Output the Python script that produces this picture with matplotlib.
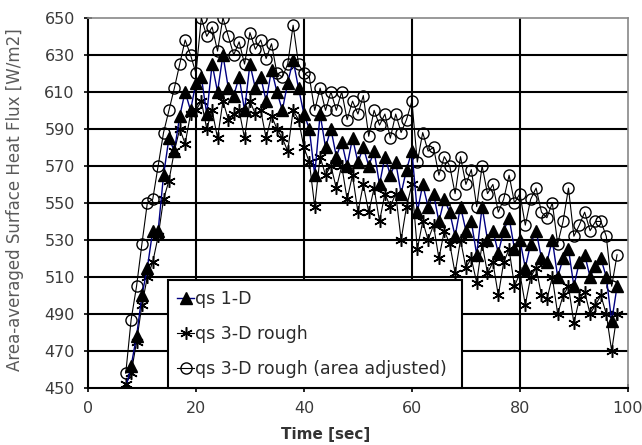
import matplotlib
matplotlib.use("Agg")
import matplotlib.pyplot as plt
import numpy as np

plt.rcParams['font.family'] = ['DejaVu Sans']

# time stamps [sec]
time_s = list(range(7, 99))

# quasi-steady 1-D surface heat flux [W/m2]
qs_1d = [
    450, 462, 478, 500, 515, 535, 535, 565, 585, 578,
    597, 610, 600, 615, 618, 598, 625, 610, 630, 612,
    608, 618, 600, 625, 612, 618, 605, 622, 610, 600,
    615, 627, 612, 598, 590, 565, 598, 580, 590, 575,
    583, 570, 585, 572, 580, 570, 578, 560, 575, 565,
    572, 555, 568, 578, 545, 560, 548, 555, 540, 552,
    545, 532, 548, 535, 540, 522, 548, 530, 535, 523,
    535, 542, 525, 530, 515, 528, 535, 520, 518, 530,
    510, 520, 525, 505, 518, 522, 510, 516, 520, 510,
    486, 505,
]

# quasi-steady 3-D rough surface heat flux [W/m2]
qs_3d_rough = [
    452, 458, 475, 495, 510, 518, 532, 552, 562, 578,
    590, 582, 598, 600, 605, 590, 600, 585, 605, 595,
    598, 600, 585, 605, 598, 600, 585, 597, 590, 585,
    578, 600, 595, 580, 572, 548, 575, 565, 570, 558,
    570, 552, 565, 545, 560, 545, 558, 540, 555, 548,
    555, 530, 548, 560, 525, 540, 530, 538, 520, 535,
    528, 512, 530, 515, 520, 507, 528, 512, 518, 500,
    518, 525, 505, 512, 495, 510, 515, 500, 498, 510,
    490, 500, 505, 485, 498, 502, 490, 495, 500, 490,
    470, 490,
]

# quasi-steady 3-D rough, area adjusted [W/m2]
qs_3d_area = [
    458, 487, 505, 528, 550, 552, 570, 588, 600, 612,
    625, 638, 630, 620, 650, 640, 645, 632, 650, 640,
    630, 637, 625, 642, 633, 638, 628, 636, 620, 618,
    625, 646, 625, 620, 618, 600, 612, 600, 610, 600,
    610, 595, 605, 598, 608, 586, 600, 592, 598, 585,
    598, 588, 595, 605, 572, 588, 578, 580, 565, 575,
    570, 555, 575, 560, 568, 548, 570, 555, 560, 545,
    552, 565, 550, 555, 538, 552, 558, 545, 542, 550,
    528, 540, 558, 532, 538, 545, 535, 540, 540, 532,
    505, 522,
]

labels = ["qs 1-D", "qs 3-D rough", "qs 3-D rough (area adjusted)"]

fig = plt.figure(figsize=(6.42, 4.45), dpi=100)
ax = fig.add_axes([0.137, 0.128, 0.841, 0.832])

ax.plot(time_s, qs_1d, color='#000080', lw=1.0, marker='^', ms=8,
        mfc='black', mec='black', label=labels[0], zorder=5)
ax.plot(time_s, qs_3d_rough, color='black', lw=0.8, marker=(6, 2, 0), ms=9,
        mec='black', mew=1.1, label=labels[1], zorder=4)
ax.plot(time_s, qs_3d_area, color='black', lw=0.8, marker='o', ms=8,
        mfc='none', mec='black', mew=1.0, label=labels[2], zorder=3)

ax.set_xlim(0, 100)
ax.set_ylim(450, 650)
ax.set_xticks(np.arange(0, 101, 20))
ax.set_yticks(np.arange(450, 651, 20))

# grid: interior lines only
for xv in (20, 40, 60, 80):
    ax.axvline(xv, color='black', lw=1.5, zorder=1)
for yv in range(470, 650, 20):
    ax.axhline(yv, color='black', lw=1.5, zorder=1)

for side in ('top', 'right'):
    ax.spines[side].set_color('#888888')
    ax.spines[side].set_linewidth(1.2)
for side in ('left', 'bottom'):
    ax.spines[side].set_color('black')
    ax.spines[side].set_linewidth(1.5)

ax.tick_params(axis='both', direction='inout', length=6, width=1.2,
               labelsize=11.5, colors='black', labelcolor='#3a3a3a')
ax.tick_params(axis='x', pad=6.5)
ax.tick_params(axis='y', pad=6.5)

ax.set_xlabel("Time [sec]", fontsize=11, fontweight='bold', color='#333333')
ax.xaxis.set_label_coords(0.44, -0.105)
ax.set_ylabel("Area-averaged Surface Heat Flux [W/m2]", fontsize=12,
              color='#5a5a5a')
ax.yaxis.set_label_coords(-0.118, 0.51)

leg = ax.legend(loc='lower left', bbox_to_anchor=(0.148, 0.0, 0.545, 0.3),
                mode='expand', fontsize=12.5,
                frameon=True, fancybox=False, framealpha=1, edgecolor='black',
                borderpad=0.55, labelspacing=1.0, handlelength=0.95,
                handletextpad=0.05, borderaxespad=0)
leg.get_frame().set_linewidth(1.5)
leg.set_zorder(10)
for t in leg.get_texts():
    t.set_color('#2a2a2a')

fig.savefig("out.png", dpi=100)
